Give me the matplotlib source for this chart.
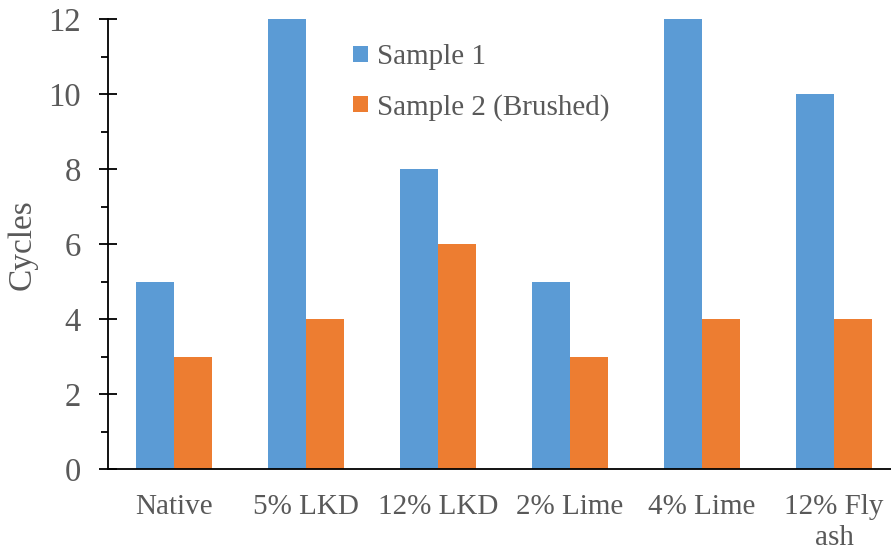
import matplotlib
matplotlib.use('Agg')
import matplotlib.pyplot as plt
import numpy as np

categories = ['Native', '5% LKD', '12% LKD', '2% Lime', '4% Lime', '12% Fly\nash']
sample1 = [5, 12, 8, 5, 12, 10]
sample2 = [3, 4, 6, 3, 4, 4]

c1 = '#5B9BD5'
c2 = '#ED7D31'
txt = '#595959'
FS = 21
FONT = 'Liberation Serif'

plt.rcParams['font.family'] = FONT

fig = plt.figure(figsize=(8.91, 5.5), dpi=100)
# x range runs a little past the right edge of the figure, like the original
ax = fig.add_axes([108/891, 0.147, 792/891, 0.818])

x = np.arange(len(categories))
w = 0.288
ax.bar(x - w/2, sample1, width=w, color=c1, label='Sample 1')
ax.bar(x + w/2, sample2, width=w, color=c2, label='Sample 2 (Brushed)')

ax.set_xlim(-0.5, len(categories) - 0.5)
ax.set_ylim(0, 12)
ax.set_yticks(np.arange(0, 13, 2))
ax.set_yticks(np.arange(1, 12, 2), minor=True)

for s in ['top', 'right']:
    ax.spines[s].set_visible(False)
ax.spines['left'].set_linewidth(1.3)
ax.spines['bottom'].set_linewidth(1.3)

ax.tick_params(axis='y', which='major', direction='inout', length=13, width=1.3,
               labelsize=23.5, labelcolor=txt, pad=13)
ax.tick_params(axis='y', which='minor', direction='out', length=5, width=1.3)
ax.set_xticks(x)
ax.set_xticklabels(categories, linespacing=1.25, fontfamily=FONT)
ax.tick_params(axis='x', length=0, labelsize=FS, labelcolor=txt, pad=18)
for lab in ax.get_yticklabels():
    lab.set_fontfamily(FONT)

ax.set_ylabel('Cycles', fontsize=24, color=txt, labelpad=8, fontfamily=FONT)

leg = ax.legend(loc='upper left', bbox_to_anchor=(0.367, 0.967), bbox_transform=fig.transFigure,
                frameon=False, prop={'family': FONT, 'size': FS}, handlelength=0.5,
                handleheight=0.5, handletextpad=0.3, labelspacing=0.8)
for t in leg.get_texts():
    t.set_color(txt)

fig.savefig('out.png', dpi=100)
